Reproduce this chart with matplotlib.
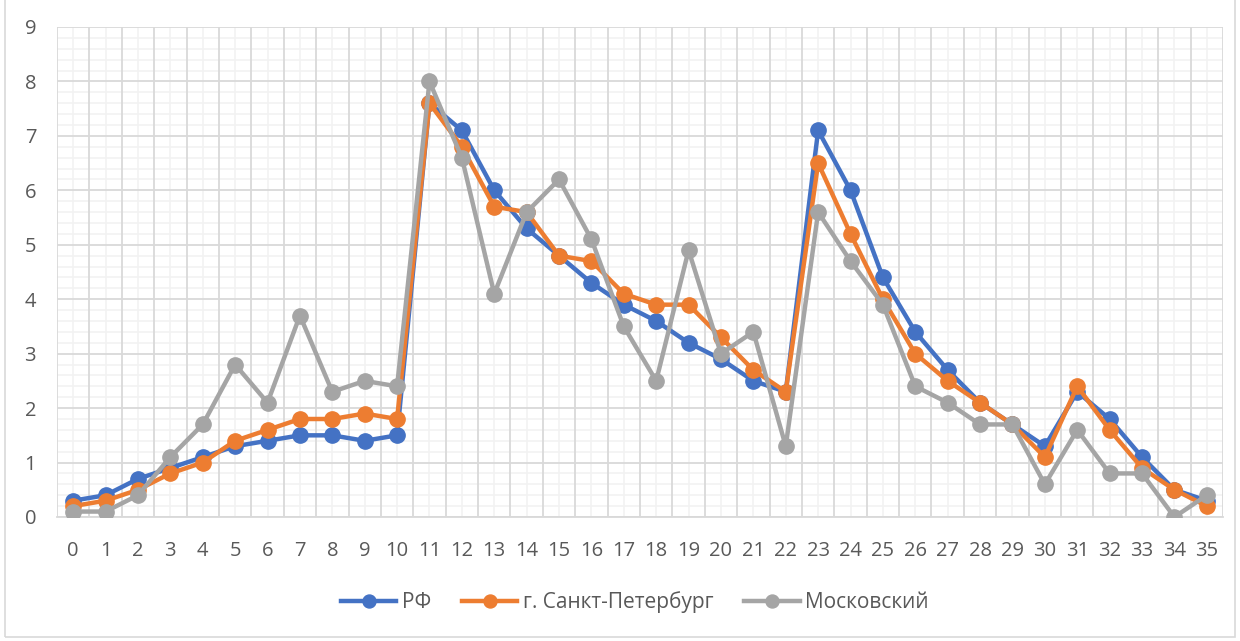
import matplotlib.pyplot as plt
from matplotlib.patches import Rectangle
from matplotlib.ticker import MultipleLocator

# данные
categories = list(range(36))
rf = [0.3, 0.4, 0.7, 0.9, 1.1, 1.3, 1.4, 1.5, 1.5, 1.4, 1.5, 7.6, 7.1, 6.0, 5.3, 4.8, 4.3, 3.9,
      3.6, 3.2, 2.9, 2.5, 2.3, 7.1, 6.0, 4.4, 3.4, 2.7, 2.1, 1.7, 1.3, 2.3, 1.8, 1.1, 0.5, 0.3]
spb = [0.2, 0.3, 0.5, 0.8, 1.0, 1.4, 1.6, 1.8, 1.8, 1.9, 1.8, 7.6, 6.8, 5.7, 5.6, 4.8, 4.7, 4.1,
       3.9, 3.9, 3.3, 2.7, 2.3, 6.5, 5.2, 4.0, 3.0, 2.5, 2.1, 1.7, 1.1, 2.4, 1.6, 0.9, 0.5, 0.2]
msk = [0.1, 0.1, 0.4, 1.1, 1.7, 2.8, 2.1, 3.7, 2.3, 2.5, 2.4, 8.0, 6.6, 4.1, 5.6, 6.2, 5.1, 3.5,
       2.5, 4.9, 3.0, 3.4, 1.3, 5.6, 4.7, 3.9, 2.4, 2.1, 1.7, 1.7, 0.6, 1.6, 0.8, 0.8, 0.0, 0.4]
names = ["РФ", "г. Санкт-Петербург", "Московский"]
colors = ["#4472C4", "#ED7D31", "#A5A5A5"]

plt.rcParams['font.family'] = ['Open Sans', 'DejaVu Sans']

fig = plt.figure(figsize=(12.4, 6.41), dpi=100)
ax = fig.add_axes([57 / 1240, 124 / 641, 1166 / 1240, 490 / 641])

for serie, nombre, color in zip([rf, spb, msk], names, colors):
    ax.plot(categories, serie, color=color, lw=3.2, marker='o', ms=11, label=nombre,
            solid_joinstyle='round', zorder=3)

ax.set_xlim(-0.5, 35.5)
ax.set_ylim(0, 9)
ax.set_xticks(categories)
ax.set_xticklabels([str(c) for c in categories])
ax.yaxis.set_major_locator(MultipleLocator(1))
ax.yaxis.set_minor_locator(MultipleLocator(0.2))

# сетка: основные линии по границам категорий, второстепенные по центрам
for b in range(37):
    ax.axvline(b - 0.5, color='#D9D9D9', lw=1.3, zorder=1)
for c in categories:
    ax.axvline(c, color='#F2F2F2', lw=1.2, zorder=0.5)
ax.grid(axis='y', which='major', color='#D9D9D9', lw=1.3, zorder=1)
ax.grid(axis='y', which='minor', color='#F2F2F2', lw=1.2, zorder=0.5)
ax.set_axisbelow(True)

for s in ['top', 'right', 'left']:
    ax.spines[s].set_visible(False)
ax.spines['bottom'].set_color('#D9D9D9')
ax.spines['bottom'].set_linewidth(1.3)
ax.tick_params(axis='both', which='both', length=0, colors='#595959', labelsize=14.5)
ax.tick_params(axis='x', pad=17)
ax.tick_params(axis='y', pad=15)

fig.legend(loc='center', bbox_to_anchor=(0.512, 1 - 602 / 641), ncol=3, frameon=False,
           fontsize=15, labelcolor='#595959', handlelength=2.65, handletextpad=0.25,
           columnspacing=1.5, markerscale=0.85)

# рамка области диаграммы
fig.patches.append(Rectangle((5 / 1240, 4 / 641), 1230 / 1240, 640 / 641, transform=fig.transFigure,
                             fill=False, edgecolor='#D9D9D9', lw=1.2))

fig.savefig("out.png", dpi=100)
